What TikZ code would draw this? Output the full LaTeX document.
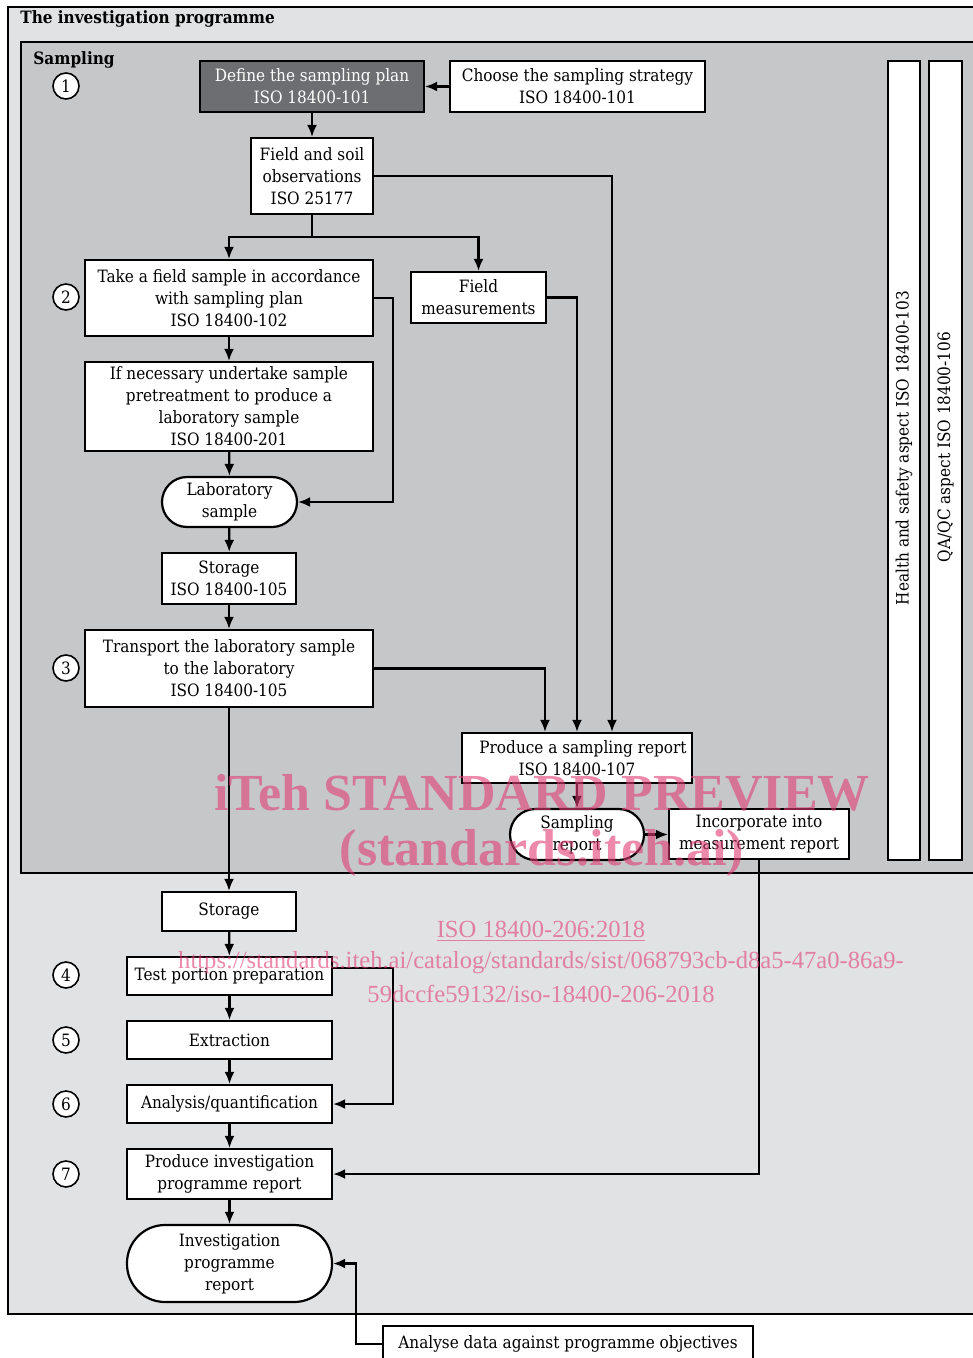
\documentclass[tikz,border=0pt]{standalone}
\usepackage{fontspec}
\setmainfont{DejaVu Serif Condensed}
\newfontfamily\wmfont{Liberation Serif}
\usetikzlibrary{arrows.meta,calc}
\definecolor{outerbg}{RGB}{225,226,228}
\definecolor{innerbg}{RGB}{198,199,201}
\definecolor{darkbox}{RGB}{109,110,113}
\definecolor{wmpink}{RGB}{225,61,116}
\begin{document}
\begin{tikzpicture}[x=0.5pt,y=-0.5pt,
 every node/.style={font=\fontsize{8.5}{11}\selectfont},
 box/.style={draw=black, fill=white, line width=1.1pt, inner sep=0pt, align=center},
 stad/.style={box, rounded corners=#1},
 num/.style={draw=black, fill=white, circle, line width=0.8pt, minimum size=13pt, inner sep=0pt},
 arr/.style={line width=1.1pt, -{Latex[length=6pt,width=5pt]}},
 ln/.style={line width=1.1pt},
 wm/.style={text=wmpink, text opacity=0.6, inner sep=0pt, font=\wmfont\bfseries\fontsize{26}{26}\selectfont},
 wms/.style={text=wmpink, text opacity=0.6, inner sep=0pt, font=\wmfont\fontsize{12.3}{12.3}\selectfont}
]
\useasboundingbox (0,0) rectangle (973,1358);
\clip (0,0) rectangle (973,1358);
\fill[white] (0,0) rectangle (973,1358);
% frames
\draw[fill=outerbg, line width=1.1pt] (8,7) rectangle (995,1314);
\draw[fill=innerbg, line width=1.1pt] (21,42) rectangle (995,873);
\node[anchor=west, inner sep=0pt, font=\bfseries\fontsize{8.5}{10}\selectfont] (title) at (20,19) {The investigation programme};
\node[anchor=west, inner sep=0pt, font=\bfseries\fontsize{8.5}{10}\selectfont] (samp) at (33,60) {Sampling};

% nodes
\node[box, fill=darkbox, text=white, minimum width=112pt, minimum height=25.5pt] (define) at (312,86.5) {Define the sampling plan\\ISO 18400-101};
\node[box, minimum width=127.5pt, minimum height=25.5pt] (choose) at (577.5,86.5) {Choose the sampling strategy\\ISO 18400-101};
\node[box, minimum width=61pt, minimum height=38pt] (fieldsoil) at (312,176) {Field and soil\\observations\\ISO 25177};
\node[box, minimum width=144pt, minimum height=38pt] (take) at (229,298) {Take a field sample in accordance\\with sampling plan\\ISO 18400-102};
\node[box, minimum width=67.5pt, minimum height=25.5pt] (fieldmeas) at (478.5,297.5) {Field\\measurements};
\node[box, minimum width=144pt, minimum height=44.5pt] (pretreat) at (229,406.5) {If necessary undertake sample\\pretreatment to produce a\\laboratory sample\\ISO 18400-201};
\node[stad=12.5pt, minimum width=67.5pt, minimum height=25pt] (labsample) at (229.5,502) {Laboratory\\sample};
\node[box, minimum width=67pt, minimum height=25.5pt] (storage1) at (229,578.5) {Storage\\ISO 18400-105};
\node[box, minimum width=144pt, minimum height=38.5pt] (transport) at (229,668.5) {Transport the laboratory sample\\to the laboratory\\ISO 18400-105};
\node[box, minimum width=115pt, minimum height=25pt] (produce) at (577,758) {\hspace*{6pt}Produce a sampling report\\ISO 18400-107};
\node[stad=12.7pt, minimum width=67pt, minimum height=25.5pt] (samplrep) at (577,834.5) {Sampling\\report};
\node[box, minimum width=90pt, minimum height=25pt] (incorp) at (759,834) {Incorporate into\\measurement report};
\node[box, minimum width=16pt, minimum height=399.5pt] (hs) at (904,460.5) {};
\node[box, minimum width=16.5pt, minimum height=399.5pt] (qa) at (945.5,460.5) {};
\node[rotate=90, inner sep=0pt] (hstext) at (904,448) {Health and safety aspect ISO 18400-103};
\node[rotate=90, inner sep=0pt] (qatext) at (945.5,447) {QA/QC aspect ISO 18400-106};
\node[box, minimum width=67pt, minimum height=19.5pt] (storage2) at (229,911.5) {Storage};
\node[box, minimum width=102.5pt, minimum height=19pt] (test) at (229.5,976) {Test portion preparation};
\node[box, minimum width=102.5pt, minimum height=19pt] (extraction) at (229.5,1040) {Extraction};
\node[box, minimum width=102.5pt, minimum height=19pt] (analysis) at (229.5,1104) {Analysis/quantification};
\node[box, minimum width=102.5pt, minimum height=25pt] (prodinv) at (229.5,1174) {Produce investigation\\programme report};
\node[stad=19pt, minimum width=102.5pt, minimum height=38.5pt] (invrep) at (229.5,1263.5) {Investigation\\programme\\report};
\node[box, minimum width=185pt, minimum height=18pt] (analyse) at (568,1344) {Analyse data against programme objectives};

% step numbers
\node[num] (n1) at (66,86) {1};
\node[num] (n2) at (66,297) {2};
\node[num] (n3) at (66,668) {3};
\node[num] (n4) at (66,975) {4};
\node[num] (n5) at (66,1040) {5};
\node[num] (n6) at (66,1104) {6};
\node[num] (n7) at (66,1174) {7};

% connectors
\draw[arr] (choose) -- (define);
\draw[arr] (define) -- (fieldsoil);
\coordinate (j1) at (312,237);
\draw[ln] (fieldsoil.south) -- (j1);
\draw[arr] (j1) -| (take.north);
\draw[arr] (j1) -| (fieldmeas.north);
\draw[arr] (fieldsoil.east) -| ([xshift=17.5pt]produce.north);
\draw[arr] (take.east) -- ++(19,0) |- (labsample.east);
\draw[arr] (fieldmeas.east) -| (produce.north);
\draw[arr] (take) -- (pretreat);
\draw[arr] (pretreat) -- (labsample);
\draw[arr] (labsample) -- (storage1);
\draw[arr] (storage1) -- (transport);
\draw[arr] (transport.east) -| ([xshift=-16pt]produce.north);
\draw[arr] (transport) -- (storage2);
\draw[arr] (produce) -- (samplrep);
\draw[arr] (samplrep.east) -- (incorp.west |- samplrep.east);
\draw[ln, -{Latex[length=6pt,width=5pt]}] (incorp.south) |- (prodinv.east);
\draw[arr] (storage2) -- (test);
\draw[arr] (test) -- (extraction);
\draw[arr] (extraction) -- (analysis);
\draw[arr] (analysis) -- (prodinv);
\draw[arr] (prodinv) -- (invrep);
\draw[arr] ([yshift=4pt]test.east) -- ++(60,0) |- (analysis.east);
\draw[arr] (analyse.west) -- ++(-26,0) |- (invrep.east);

% watermark
\node[wm] (wm1) at (542,793) {iTeh STANDARD PREVIEW};
\node[wm] (wm2) at (542,853) {(standards.iteh.ai)};
\node[wms] (wm3) at (541,931) {\underline{ISO 18400-206:2018}};
\node[wms] (wm4) at (541,963) {https://standards.iteh.ai/catalog/standards/sist/068793cb-d8a5-47a0-86a9-};
\node[wms] (wm5) at (541,994) {59dccfe59132/iso-18400-206-2018};
\end{tikzpicture}
\end{document}
